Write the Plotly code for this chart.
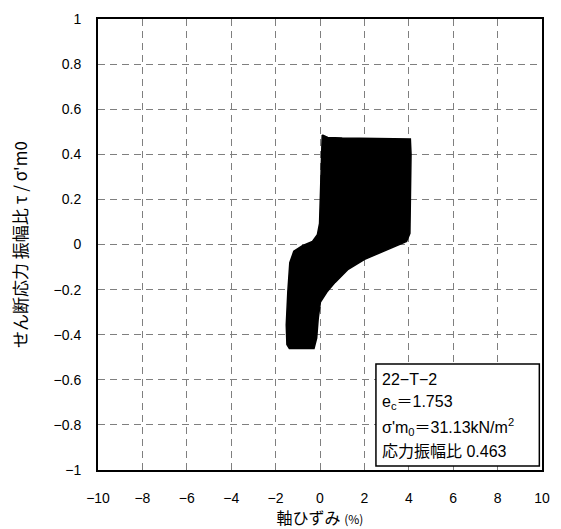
import plotly.graph_objects as go

# Outline of the dense cyclic loops (axial strain %, stress ratio)
loop_strain = [0.10, 0.35, 1.0, 2.0, 3.0, 4.07, 4.10, 4.05, 3.90, 3.04, 2.01, 1.27, 0.68, 0.31,
               0.02, -0.08, -0.15, -0.27, -0.8, -1.38, -1.49, -1.52, -1.45, -1.36, -1.18, -0.79,
               -0.34, -0.12, -0.02, 0.02, 0.07, 0.10]
loop_ratio = [0.486, 0.475, 0.472, 0.470, 0.470, 0.468, 0.40, 0.05, 0.014, -0.023, -0.066, -0.11,
              -0.168, -0.211, -0.255, -0.328, -0.415, -0.461, -0.461, -0.461, -0.444, -0.357,
              -0.211, -0.081, -0.03, -0.005, 0.014, 0.043, 0.094, 0.224, 0.37, 0.486]

x_ticks = [-10, -8, -6, -4, -2, 0, 2, 4, 6, 8, 10]
y_ticks = [-1, -0.8, -0.6, -0.4, -0.2, 0, 0.2, 0.4, 0.6, 0.8, 1]
info_lines = ["22−T−2", "e<sub>c</sub>＝1.753", "σ'm<sub>0</sub>＝31.13kN/m<sup>2</sup>", "応力振幅比 0.463"]

FONT = "Liberation Sans, Arial, Noto Sans CJK JP"

fig = go.Figure()
fig.add_trace(go.Scatter(x=loop_strain, y=loop_ratio, mode="lines", fill="toself",
                         fillcolor="black", line=dict(color="black", width=1.5),
                         hoverinfo="skip", showlegend=False))

axis_common = dict(showgrid=True, gridcolor="#7f7f7f", gridwidth=1, griddash="7px,5px",
                   zeroline=False, showline=True, linecolor="black", linewidth=2, mirror=True,
                   ticks="", tickfont=dict(family=FONT, size=14, color="black"))

fig.update_xaxes(range=[-10, 10], tickvals=x_ticks, ticktext=[f"{v}".replace("-", "−") for v in x_ticks],
                 ticklabelstandoff=14,
                 title=dict(text="軸ひずみ <span style='font-size:12px'>(%)</span>", standoff=1,
                            font=dict(family="Noto Sans CJK JP", size=16, color="black")),
                 **axis_common)
fig.update_yaxes(range=[-1, 1], tickvals=y_ticks,
                 ticktext=[("%g" % v).replace("-", "−") for v in y_ticks],
                 ticklabelstandoff=12,
                 title=dict(text="せん断応力 振幅比 τ / σ'm0", standoff=22,
                            font=dict(family="Noto Sans CJK JP", size=17, color="black")),
                 **axis_common)

# Info box
bx0, bx1, by0, by1 = 0.626, 0.994, 0.009, 0.235
fig.add_shape(type="rect", xref="paper", yref="paper", x0=bx0, x1=bx1, y0=by0, y1=by1,
              line=dict(color="black", width=1.5), fillcolor="white", layer="above")
line_y = [0.200, 0.149, 0.096, 0.042]
for txt, yy in zip(info_lines, line_y):
    fig.add_annotation(xref="paper", yref="paper", x=bx0 + 0.010, y=yy, text=txt, showarrow=False,
                       xanchor="left", yanchor="middle", align="left",
                       font=dict(family=FONT, size=16, color="black"))

fig.update_layout(width=561, height=529, margin=dict(l=98, r=11, t=12, b=58),
                  plot_bgcolor="white", paper_bgcolor="white", showlegend=False)

fig.write_html("out.html")
